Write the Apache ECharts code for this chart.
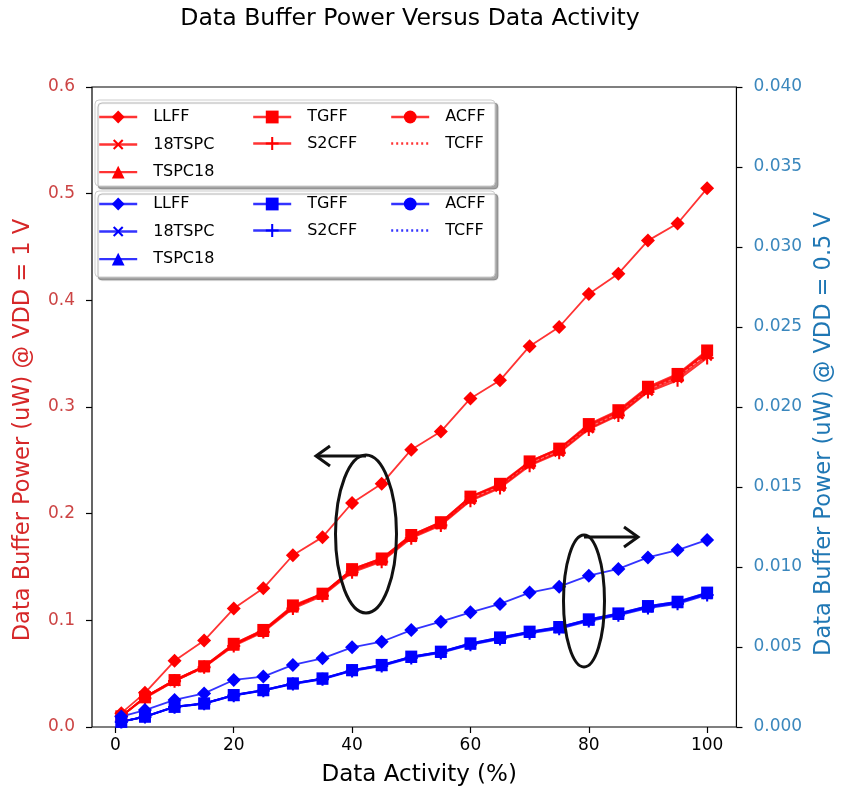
<!DOCTYPE html>
<html><head><meta charset="utf-8">
<script src="https://cdn.jsdelivr.net/npm/echarts@6/dist/echarts.min.js"></script>
<style>html,body{margin:0;padding:0;background:#fff}#c{width:844px;height:798px}</style>
</head><body><div id="c"></div>
<script>
// ---- data ----
const activity = [1,5,10,15,20,25,30,35,40,45,50,55,60,65,70,75,80,85,90,95,100];
const xTickValues = [0,20,40,60,80,100];
const seriesNames = ['LLFF','18TSPC','TSPC18','TGFF','S2CFF','ACFF','TCFF'];

// VDD = 1 V (left axis, uW)
const red_LLFF   = [0.013,0.032,0.062,0.081,0.111,0.130,0.161,0.178,0.210,0.228,0.260,0.277,0.308,0.325,0.357,0.375,0.406,0.425,0.456,0.472,0.505];
const red_18TSPC = [0.010,0.028,0.043,0.056,0.077,0.090,0.112,0.124,0.146,0.156,0.178,0.190,0.213,0.225,0.246,0.258,0.280,0.293,0.315,0.327,0.348];
const red_TSPC18 = [0.010,0.028,0.044,0.057,0.077,0.090,0.113,0.125,0.147,0.157,0.179,0.191,0.215,0.227,0.248,0.260,0.282,0.295,0.317,0.329,0.351];
const red_TGFF   = [0.010,0.028,0.044,0.057,0.078,0.091,0.114,0.125,0.148,0.158,0.180,0.192,0.216,0.228,0.249,0.261,0.284,0.297,0.319,0.331,0.353];
const red_S2CFF  = [0.010,0.027,0.043,0.056,0.076,0.089,0.111,0.123,0.145,0.155,0.177,0.189,0.212,0.224,0.245,0.257,0.279,0.292,0.314,0.325,0.346];
const red_ACFF   = [0.010,0.028,0.044,0.057,0.078,0.091,0.113,0.125,0.148,0.158,0.180,0.192,0.216,0.227,0.249,0.261,0.283,0.296,0.318,0.330,0.352];
const red_TCFF   = [0.010,0.028,0.043,0.056,0.077,0.090,0.112,0.124,0.147,0.157,0.179,0.190,0.214,0.226,0.247,0.259,0.281,0.294,0.316,0.328,0.350];

// VDD = 0.5 V (right axis, uW)
const blue_LLFF   = [0.00065,0.00106,0.00169,0.00210,0.00294,0.00315,0.00388,0.00429,0.00498,0.00533,0.00606,0.00658,0.00717,0.00769,0.00840,0.00877,0.00946,0.00988,0.01060,0.01106,0.01169];
const blue_18TSPC = [0.00033,0.00064,0.00125,0.00146,0.00197,0.00228,0.00270,0.00300,0.00352,0.00383,0.00435,0.00466,0.00517,0.00553,0.00590,0.00618,0.00666,0.00702,0.00748,0.00775,0.00830];
const blue_TSPC18 = [0.00033,0.00065,0.00126,0.00147,0.00199,0.00230,0.00272,0.00302,0.00354,0.00386,0.00438,0.00469,0.00520,0.00557,0.00593,0.00622,0.00670,0.00706,0.00752,0.00779,0.00836];
const blue_TGFF   = [0.00033,0.00065,0.00127,0.00148,0.00200,0.00231,0.00273,0.00304,0.00356,0.00388,0.00440,0.00471,0.00523,0.00560,0.00596,0.00625,0.00673,0.00710,0.00756,0.00783,0.00840];
const blue_S2CFF  = [0.00032,0.00063,0.00124,0.00145,0.00196,0.00227,0.00268,0.00298,0.00350,0.00381,0.00432,0.00463,0.00514,0.00550,0.00586,0.00614,0.00662,0.00698,0.00743,0.00770,0.00825];
const blue_ACFF   = [0.00033,0.00065,0.00127,0.00148,0.00200,0.00231,0.00273,0.00303,0.00355,0.00387,0.00439,0.00470,0.00522,0.00559,0.00595,0.00624,0.00672,0.00709,0.00755,0.00782,0.00838];
const blue_TCFF   = [0.00033,0.00064,0.00126,0.00146,0.00198,0.00229,0.00271,0.00301,0.00353,0.00384,0.00436,0.00467,0.00518,0.00555,0.00591,0.00620,0.00668,0.00704,0.00750,0.00777,0.00833];

const redData  = {LLFF:red_LLFF,'18TSPC':red_18TSPC,TSPC18:red_TSPC18,TGFF:red_TGFF,S2CFF:red_S2CFF,ACFF:red_ACFF,TCFF:red_TCFF};
const blueData = {LLFF:blue_LLFF,'18TSPC':blue_18TSPC,TSPC18:blue_TSPC18,TGFF:blue_TGFF,S2CFF:blue_S2CFF,ACFF:blue_ACFF,TCFF:blue_TCFF};

// ---- styles ----
const FONT = 'DejaVu Sans';
const PLUS = 'path://M4.2,0H5.8V4.2H10V5.8H5.8V10H4.2V5.8H0V4.2H4.2Z';
const markers = {
  LLFF:{symbol:'diamond',size:14,rot:0},
  '18TSPC':{symbol:PLUS,size:13,rot:45},
  TSPC18:{symbol:'triangle',size:12,rot:0},
  TGFF:{symbol:'rect',size:12,rot:0},
  S2CFF:{symbol:PLUS,size:13,rot:0},
  ACFF:{symbol:'circle',size:11,rot:0},
  TCFF:{symbol:'none',size:0,rot:0}
};
const sep = '|';
function makeSeries(group, color, yIdx, dataMap){
  return seriesNames.map(n => {
    const m = markers[n];
    return {
      name: n + sep + group,
      type: 'line',
      yAxisIndex: yIdx,
      data: activity.map((a,i)=>[a, dataMap[n][i]]),
      symbol: m.symbol,
      symbolSize: m.size,
      symbolRotate: m.rot,
      showSymbol: m.symbol !== 'none',
      itemStyle: {color: color},
      lineStyle: {color: color, width: 1.8, opacity: 0.8, type: n==='TCFF' ? [2,3] : 'solid'},
      emphasis: {disabled: true},
      animation: false
    };
  });
}
const series = makeSeries('1V','#ff0000',0,redData).concat(makeSeries('05V','#0000ff',1,blueData));

const columns = [['LLFF','18TSPC','TSPC18'],['TGFF','S2CFF'],['ACFF','TCFF']];
const colX = [98,252,390];
const legends = [];
[['1V',109],['05V',196]].forEach(([g,top])=>{
  columns.forEach((col,ci)=>{
    legends.push({
      orient:'vertical', left: colX[ci], top: top, padding: 0,
      itemWidth: 38, itemHeight: 16, itemGap: 10.5, selectedMode: false, z: 10,
      lineStyle: {width: 2.4},
      data: col.map(n=> n==='TCFF' ? {name: n+sep+g, itemStyle:{opacity:0}} : n+sep+g),
      formatter: name => name.split(sep)[0],
      textStyle: {fontFamily: FONT, fontSize: 16, color:'#000', padding:[0,0,0,11]}
    });
  });
});

const chart = echarts.init(document.getElementById('c'), null, {renderer:'canvas'});
const tickLabelStyle = (c)=>({fontFamily: FONT, fontSize: 17, color: c});
chart.setOption({
  backgroundColor: '#fff',
  animation: false,
  title: {text: 'Data Buffer Power Versus Data Activity', left: 405, top: 2, textAlign: 'center',
    textStyle: {fontFamily: FONT, fontSize: 23.6, fontWeight: 'normal', color: '#000'}},
  legend: legends,
  grid: {left: 92, right: 98, top: 87, bottom: 71, show: true, borderColor: '#000', borderWidth: 1.2, containLabel: false},
  xAxis: {
    type: 'value', min: -3.95, max: 104.95,
    name: 'Data Activity (%)', nameLocation: 'middle', nameGap: 37,
    nameTextStyle: {fontFamily: FONT, fontSize: 23, color: '#000', padding: [0, 0, 0, 10]},
    axisLine: {show: false, onZero: false},
    axisTick: {show: true, inside: false, length: 6, lineStyle: {color: '#000', width: 1.2}, customValues: xTickValues},
    axisLabel: {margin: 10, customValues: xTickValues, ...tickLabelStyle('#000')},
    splitLine: {show: false}
  },
  yAxis: [
    {type:'value', position:'left', min: 0, max: 0.6, interval: 0.1,
     name: 'Data Buffer Power (uW) @ VDD = 1 V', nameLocation: 'middle', nameGap: 57,
     nameTextStyle: {fontFamily: FONT, fontSize: 22.5, color: '#d62728', padding: [0, 46, 0, 0]},
     axisLine:{show:false, onZero:false},
     axisTick:{show:true, length:6, lineStyle:{color:'#000', width:1.2}},
     axisLabel:{margin: 17, formatter: v=>v.toFixed(1), ...tickLabelStyle('#cc4444')},
     splitLine:{show:false}},
    {type:'value', position:'right', min: 0, max: 0.04, interval: 0.005,
     name: 'Data Buffer Power (uW) @ VDD = 0.5 V', nameLocation: 'middle', nameGap: 76,
     nameTextStyle: {fontFamily: FONT, fontSize: 22.5, color: '#1f77b4', padding: [0, 54, 0, 0]},
     axisLine:{show:false, onZero:false},
     axisTick:{show:true, length:6, lineStyle:{color:'#000', width:1.2}},
     axisLabel:{margin: 17, formatter: v=>v.toFixed(3), ...tickLabelStyle('#3a87bd')},
     splitLine:{show:false}}
  ],
  series: series,
  graphic: [
    {type:'rect', z: 5, shape:{x:95, y:100, width:400, height:86, r:4},
     style:{fill:'#fff', stroke:'#cccccc', lineWidth:1, shadowColor:'rgba(0,0,0,0.35)', shadowOffsetX:3, shadowOffsetY:3, shadowBlur:1}},
    {type:'rect', z: 5, shape:{x:95, y:191, width:400, height:86, r:4},
     style:{fill:'#fff', stroke:'#cccccc', lineWidth:1, shadowColor:'rgba(0,0,0,0.35)', shadowOffsetX:3, shadowOffsetY:3, shadowBlur:1}},
    {type:'ellipse', z: 20, shape:{cx:366, cy:534, rx:30.5, ry:79}, style:{fill:'none', stroke:'#111', lineWidth:3}},
    {type:'line', z: 20, shape:{x1:366, y1:456, x2:316, y2:456}, style:{stroke:'#111', lineWidth:3}},
    {type:'polyline', z: 20, shape:{points:[[330,446],[316,456],[330,466]]}, style:{fill:'none', stroke:'#111', lineWidth:3}},
    {type:'ellipse', z: 20, shape:{cx:584, cy:601, rx:20.5, ry:66}, style:{fill:'none', stroke:'#111', lineWidth:3}},
    {type:'line', z: 20, shape:{x1:584, y1:537, x2:638, y2:537}, style:{stroke:'#111', lineWidth:3}},
    {type:'polyline', z: 20, shape:{points:[[624,527],[638,537],[624,547]]}, style:{fill:'none', stroke:'#111', lineWidth:3}}
  ]
});
</script>
</body></html>
